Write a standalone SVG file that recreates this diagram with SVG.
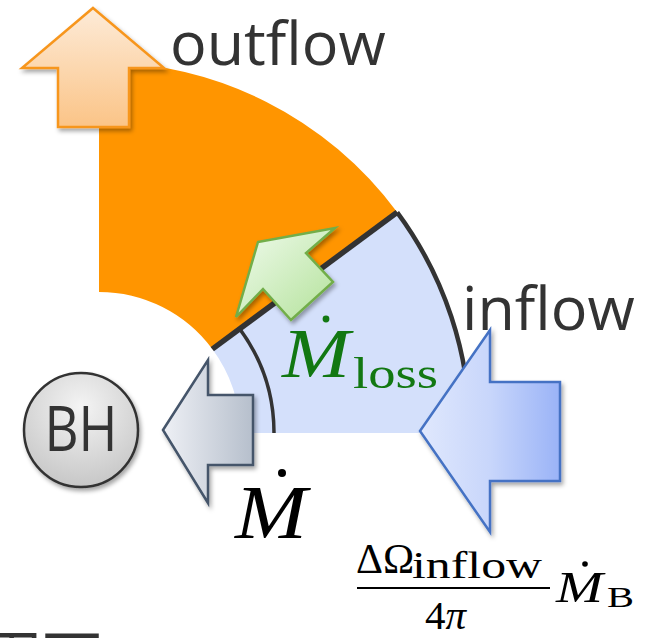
<svg xmlns="http://www.w3.org/2000/svg" width="652" height="638" viewBox="0 0 652 638">
<style>
.lbl{font-family:"Open Sans","Noto Sans",sans-serif;fill:#333}
.math{font-family:"Liberation Serif","DejaVu Serif",serif}
.it{font-style:italic}
.dark{fill:none;stroke:#333}
</style>
<defs>
<filter id="sh" x="-20%" y="-20%" width="150%" height="150%">
<feDropShadow dx="2" dy="3" stdDeviation="2.2" flood-color="#000" flood-opacity="0.35"/>
</filter>
<linearGradient id="gOut" x1="0" y1="0" x2="0" y2="1">
<stop offset="0" stop-color="#fdebd8"/><stop offset="1" stop-color="#fbc487"/>
</linearGradient>
<linearGradient id="gIn" x1="0" y1="0" x2="1" y2="0">
<stop offset="0" stop-color="#e0e8fd"/><stop offset="0.5" stop-color="#c8d6fb"/><stop offset="1" stop-color="#9ab3f7"/>
</linearGradient>
<linearGradient id="gAcc" x1="0" y1="0" x2="1" y2="0">
<stop offset="0" stop-color="#eef0f5"/><stop offset="1" stop-color="#b6bfcc"/>
</linearGradient>
<linearGradient id="gLoss" x1="0" y1="0" x2="1" y2="1">
<stop offset="0" stop-color="#f1fbee"/><stop offset="1" stop-color="#b3e29a"/>
</linearGradient>
<radialGradient id="gBH" cx="0.5" cy="0.3" r="0.75">
<stop offset="0" stop-color="#f4f4f4"/><stop offset="1" stop-color="#c4c4c4"/>
</radialGradient>
</defs>

<g id="outflow-region">
<path d="M99,292 L99,62 A371,371 0 0 1 397.2,212.3 L212.3,349.1 A141,141 0 0 0 99,292 Z" fill="#ff9500"/>
</g>
<g id="inflow-region">
<path d="M240,433 L470,433 A371,371 0 0 0 397.2,212.3 L212.3,349.1 A141,141 0 0 1 240,433 Z" fill="#d4e0fb"/>
</g>

<g id="connectors">
<path class="dark" d="M470,433 A371,371 0 0 0 397.2,212.3" stroke-width="4.5"/>
<path class="dark" d="M274,433 A175,175 0 0 0 239.7,328.9" stroke-width="3.5"/>
<line x1="212.3" y1="349.1" x2="397.2" y2="212.3" stroke="#333" stroke-width="5.5"/>
</g>

<g id="outflow-arrow">
<polygon points="93,8 164,68 129,68 129,127 58,127 58,68 22,68" fill="url(#gOut)" stroke="#f7961f" stroke-width="2.5" stroke-linejoin="miter" filter="url(#sh)"/>
</g>
<text id="outflow-label" class="lbl" x="170" y="65" font-size="61">outflow</text>

<g id="loss-arrow">
<polygon points="258,242 335,228 306,253 333,282 291,320 263,289 236,317" fill="url(#gLoss)" stroke="#72ae4a" stroke-width="2.5" filter="url(#sh)"/>
</g>

<g id="inflow-arrow">
<polygon points="420,431 490,330 490,382 560,382 560,481 490,481 490,532" fill="url(#gIn)" stroke="#4472c4" stroke-width="2.5" filter="url(#sh)"/>
</g>
<text id="inflow-label" class="lbl" x="462" y="330" font-size="61">inflow</text>

<g id="accretion-arrow">
<polygon points="163,430 208,360 208,395 253,395 253,465 208,465 208,503" fill="url(#gAcc)" stroke="#44546a" stroke-width="2.5" filter="url(#sh)"/>
</g>

<g id="BH">
<circle cx="81" cy="430" r="57" fill="url(#gBH)" stroke="#333" stroke-width="2.5" filter="url(#sh)"/>
<text class="lbl" x="81" y="451" font-size="62" text-anchor="middle" textLength="73" lengthAdjust="spacingAndGlyphs">BH</text>
</g>

<g id="mdot-loss" fill="#127812">
<circle cx="326" cy="319" r="3.4"/>
<text class="math it" x="282" y="377" font-size="69" textLength="68" lengthAdjust="spacingAndGlyphs">M</text>
<text class="math" x="353" y="388" font-size="45" textLength="85" lengthAdjust="spacingAndGlyphs">loss</text>
</g>

<g id="mdot" fill="#000">
<circle cx="282" cy="473" r="4"/>
<text class="math it" x="235" y="538" font-size="77" textLength="72" lengthAdjust="spacingAndGlyphs">M</text>
</g>

<g id="inflow-rate" fill="#000">
<text class="math" x="356" y="573" font-size="42">ΔΩ</text>
<text class="math" x="412" y="578" font-size="37" textLength="130" lengthAdjust="spacingAndGlyphs">inflow</text>
<line x1="357" y1="588" x2="550" y2="588" stroke="#000" stroke-width="2"/>
<text class="math" x="425" y="629" font-size="41">4<tspan class="it">π</tspan></text>
<circle cx="585" cy="564" r="2.8"/>
<text class="math it" x="556" y="602" font-size="45" textLength="47" lengthAdjust="spacingAndGlyphs">M</text>
<text class="math" x="607" y="607" font-size="30" textLength="27" lengthAdjust="spacingAndGlyphs">B</text>
</g>

<text id="clipped-caption" x="-18" y="680" font-size="60" fill="#333" font-family="'Noto Sans CJK JP',sans-serif">田下</text>
</svg>
